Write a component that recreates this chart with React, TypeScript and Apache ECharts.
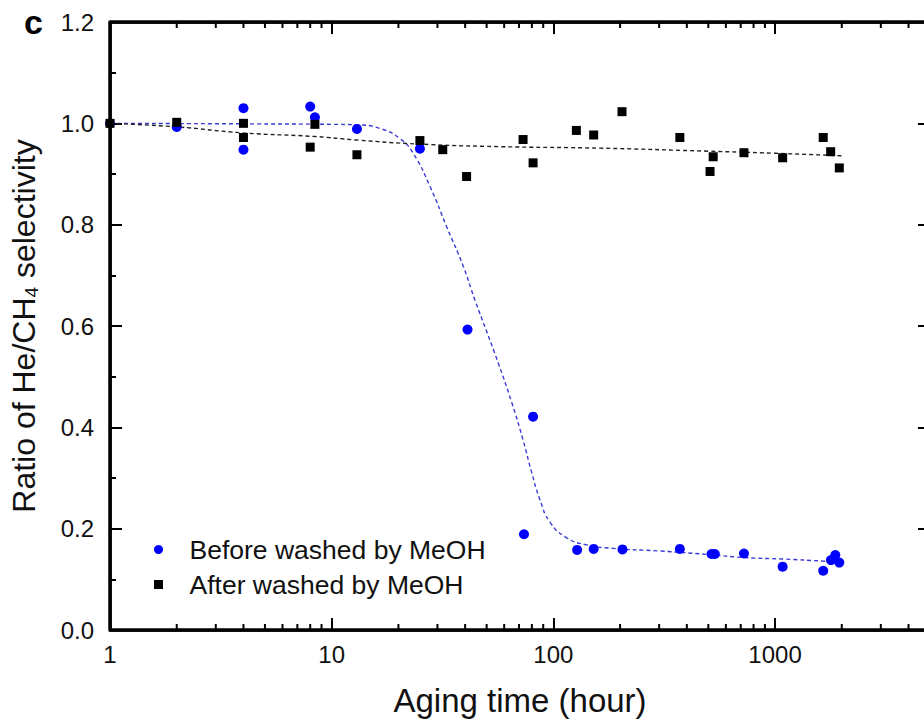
import React, { useEffect, useRef } from 'react';
import * as echarts from 'echarts';

// ---- data ----
const beforeHours = [1, 2, 4, 4, 8, 8.4, 13, 25, 41, 73.7, 81, 128, 152, 205, 372, 517, 535, 724, 1082, 1649, 1787, 1870, 1949];
const beforeRatio = [1.0, 0.993, 1.03, 0.948, 1.033, 1.012, 0.989, 0.95, 0.593, 0.189, 0.421, 0.158, 0.16, 0.159, 0.16, 0.15, 0.15, 0.151, 0.125, 0.117, 0.138, 0.148, 0.133];

const afterHours = [1, 2, 4, 4, 8, 8.4, 13, 25, 31.7, 40.6, 73, 81, 127, 152, 204, 372, 509, 526, 724, 1082, 1649, 1782, 1949];
const afterRatio = [1.0, 1.002, 1.0, 0.972, 0.953, 0.998, 0.938, 0.966, 0.948, 0.895, 0.968, 0.922, 0.986, 0.977, 1.023, 0.972, 0.905, 0.934, 0.942, 0.932, 0.972, 0.944, 0.912];

const beforeFitHours = [1, 4, 10, 13, 16.5, 20.3, 23.3, 27.8, 33, 39.3, 44.3, 54.5, 64.9, 73.1, 79.8, 87, 96.5, 114.8, 141.3, 186.3, 300, 500, 724, 1100, 1650, 2000];
const beforeFitRatio = [1.0, 0.999, 0.998, 0.997, 0.99, 0.97, 0.941, 0.875, 0.796, 0.717, 0.651, 0.545, 0.449, 0.374, 0.311, 0.257, 0.213, 0.182, 0.168, 0.161, 0.156, 0.149, 0.143, 0.14, 0.136, 0.134];

const afterFitHours = [1, 2, 4, 8.4, 13, 25, 57, 162, 500, 1000, 2000];
const afterFitRatio = [1.0, 0.993, 0.981, 0.974, 0.967, 0.959, 0.954, 0.951, 0.945, 0.941, 0.936];

const minorTickHours = [2, 3, 4, 5, 6, 7, 8, 9, 20, 30, 40, 50, 60, 70, 80, 90, 200, 300, 400, 500, 600, 700, 800, 900, 2000, 3000, 4000];

const X_MIN = 1;
const X_MAX = 5000;
const Y_MIN = 0;
const Y_MAX = 1.2;
const Y_STEP = 0.2;

const seriesNames = ['Before washed by MeOH', 'After washed by MeOH'];
const xTitle = 'Aging time (hour)';
const panelLabel = 'c';

const FONT = '"Liberation Sans", Arial, sans-serif';

const zip = (xs: number[], ys: number[]) => xs.map((x, i) => [x, ys[i]]);

export default function App() {
  const ref = useRef<HTMLDivElement>(null);

  useEffect(() => {
    if (!ref.current) return;
    const chart = echarts.init(ref.current, null, { renderer: 'svg' });

    const xAxisBase = {
      type: 'log',
      logBase: 10,
      min: X_MIN,
      max: X_MAX,
      axisLine: { show: true, onZero: false, lineStyle: { color: '#000', width: 2.5 } },
      axisTick: { show: true, inside: true, length: 12, lineStyle: { color: '#000', width: 2 } },
      splitLine: { show: false },
      minorTick: { show: false },
      minorSplitLine: { show: false },
    };

    const yAxisBase = {
      type: 'value',
      min: Y_MIN,
      max: Y_MAX,
      interval: Y_STEP,
      axisLine: { show: true, onZero: false, lineStyle: { color: '#000', width: 2.5 } },
      axisTick: { show: true, inside: true, length: 12, lineStyle: { color: '#000', width: 2 } },
      minorTick: { show: true, splitNumber: 2, length: 6, lineStyle: { color: '#000', width: 2 } },
      splitLine: { show: false },
      minorSplitLine: { show: false },
    };

    const textGraphics = [
      {
        type: 'text',
        left: 24,
        top: 5,
        style: { text: panelLabel, fontSize: 34, fontWeight: 'bold', fill: '#000', fontFamily: FONT },
      },
      {
        type: 'text',
        x: 24,
        y: 326,
        rotation: Math.PI / 2,
        style: {
          text: '{a|Ratio of He/CH}{s|4}{a| selectivity}',
          align: 'center',
          verticalAlign: 'middle',
          fill: '#111',
          rich: {
            a: { fontSize: 32, lineHeight: 32, verticalAlign: 'top', fontFamily: FONT, fill: '#111' },
            s: { fontSize: 19, lineHeight: 19, verticalAlign: 'top', padding: [14, 0, 0, 0], fontFamily: FONT, fill: '#111' },
          },
        },
      },
    ];

    const option: any = {
      animation: false,
      backgroundColor: '#fff',
      textStyle: { fontFamily: FONT },
      grid: { left: 110, top: 22, right: 10, bottom: 92, containLabel: false },
      legend: {
        orient: 'vertical',
        left: 154,
        top: 536,
        padding: 0,
        itemWidth: 52,
        itemHeight: 9,
        itemGap: 8,
        data: [
          { name: seriesNames[0], icon: 'circle' },
          { name: seriesNames[1], icon: 'path://M0,0H10V10H0Z' },
        ],
        textStyle: { fontSize: 26.5, color: '#111', fontFamily: FONT },
        selectedMode: false,
      },
      xAxis: [
        {
          ...xAxisBase,
          position: 'bottom',
          name: xTitle,
          nameLocation: 'middle',
          nameGap: 54,
          nameTextStyle: { fontSize: 33, color: '#111', fontFamily: FONT },
          axisLabel: {
            show: true,
            fontSize: 24,
            color: '#111',
            margin: 12,
            fontFamily: FONT,
            formatter: (v: number) => {
              const l = Math.log10(v);
              return Math.abs(l - Math.round(l)) < 1e-6 ? String(Math.round(v)) : '';
            },
          },
        },
        {
          ...xAxisBase,
          position: 'top',
          axisLabel: { show: false },
        },
      ],
      yAxis: [
        {
          ...yAxisBase,
          position: 'left',
          axisLabel: {
            show: true,
            fontSize: 24,
            color: '#111',
            margin: 16,
            fontFamily: FONT,
            formatter: (v: number) => v.toFixed(1),
          },
        },
        {
          ...yAxisBase,
          position: 'right',
          axisLabel: { show: false },
        },
      ],
      graphic: textGraphics,
      series: [
        {
          // plot frame, drawn through the axes' own scales as four lines
          type: 'custom',
          name: 'frame',
          silent: true,
          clip: false,
          xAxisIndex: 0,
          yAxisIndex: 0,
          data: [[X_MIN, Y_MIN]],
          renderItem: (params: any, api: any) => {
            const tl = api.coord([X_MIN, Y_MAX]);
            const br = api.coord([X_MAX, Y_MIN]);
            const st = { stroke: '#000', lineWidth: 3 };
            return {
              type: 'group',
              children: [
                { type: 'line', shape: { x1: tl[0], y1: tl[1], x2: br[0], y2: tl[1] }, style: st },
                { type: 'line', shape: { x1: tl[0], y1: br[1], x2: br[0], y2: br[1] }, style: st },
                { type: 'line', shape: { x1: tl[0], y1: tl[1], x2: tl[0], y2: br[1] }, style: st },
                { type: 'line', shape: { x1: br[0], y1: tl[1], x2: br[0], y2: br[1] }, style: st },
              ],
            };
          },
          z: 5,
        },
        {
          type: 'custom',
          name: 'minorTicks',
          silent: true,
          clip: false,
          xAxisIndex: 0,
          yAxisIndex: 0,
          data: minorTickHours.map((h) => [h, Y_MIN]),
          renderItem: (params: any, api: any) => {
            const x = api.value(0);
            const b = api.coord([x, Y_MIN]);
            const t = api.coord([x, Y_MAX]);
            const st = { stroke: '#000', lineWidth: 2 };
            return {
              type: 'group',
              children: [
                { type: 'line', shape: { x1: b[0], y1: b[1], x2: b[0], y2: b[1] - 6 }, style: st },
                { type: 'line', shape: { x1: t[0], y1: t[1], x2: t[0], y2: t[1] + 6 }, style: st },
              ],
            };
          },
          z: 1,
        },
        {
          type: 'line',
          name: 'beforeFit',
          data: zip(beforeFitHours, beforeFitRatio),
          showSymbol: false,
          smooth: 0.5,
          silent: true,
          lineStyle: { color: '#3a3ad6', width: 1.4, type: [4, 3] },
          z: 2,
        },
        {
          type: 'line',
          name: 'afterFit',
          data: zip(afterFitHours, afterFitRatio),
          showSymbol: false,
          smooth: 0.5,
          silent: true,
          lineStyle: { color: '#222', width: 1.4, type: [4, 3] },
          z: 2,
        },
        {
          type: 'scatter',
          name: seriesNames[0],
          data: zip(beforeHours, beforeRatio),
          symbol: 'circle',
          symbolSize: 10,
          itemStyle: { color: '#0000ff', opacity: 1 },
          z: 3,
        },
        {
          type: 'scatter',
          name: seriesNames[1],
          data: zip(afterHours, afterRatio),
          symbol: 'rect',
          symbolSize: 9,
          itemStyle: { color: '#000', opacity: 1 },
          z: 3,
        },
      ],
    };

    chart.setOption(option);

    // second safety layer for the frame: a graphic rectangle placed from the grid's pixel mapping
    const tl = chart.convertToPixel({ gridIndex: 0 }, [X_MIN, Y_MAX]) as number[];
    const br = chart.convertToPixel({ gridIndex: 0 }, [X_MAX, Y_MIN]) as number[];
    if (tl && br) {
      chart.setOption({
        graphic: [
          ...textGraphics,
          {
            type: 'rect',
            z: 100,
            silent: true,
            shape: { x: tl[0], y: tl[1], width: br[0] - tl[0], height: br[1] - tl[1] },
            style: { fill: 'transparent', stroke: '#000', lineWidth: 3 },
          },
        ],
      });
    }

    return () => chart.dispose();
  }, []);

  return (
    <div style={{ position: 'fixed', left: 0, top: 0, width: 924, height: 722, overflow: 'hidden', background: '#fff' }}>
      <div ref={ref} style={{ width: 940, height: 722 }} />
    </div>
  );
}
